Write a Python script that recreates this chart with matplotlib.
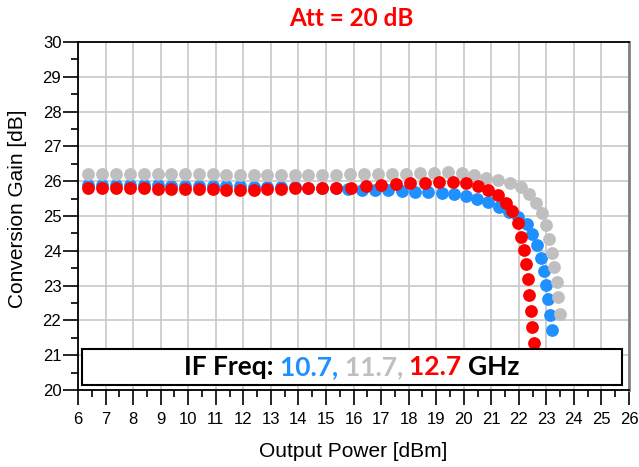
import matplotlib
matplotlib.use("Agg")
import matplotlib.pyplot as plt
from matplotlib.ticker import MultipleLocator
from matplotlib.patches import Rectangle

# Output power [dBm] and conversion gain [dB] per IF frequency
pout_10_7 = [6.37, 6.88, 7.39, 7.89, 8.39, 8.89, 9.39, 9.89, 10.39, 10.89, 11.38, 11.88,
             12.38, 12.87, 13.37, 13.87, 14.36, 14.86, 15.36, 15.81, 16.30, 16.78, 17.26,
             17.75, 18.23, 18.72, 19.20, 19.65, 20.08, 20.49, 20.89, 21.29, 21.66, 21.98,
             22.29, 22.47, 22.65, 22.80, 22.91, 22.99, 23.07, 23.13, 23.19]
gain_10_7 = [25.90, 25.90, 25.89, 25.89, 25.88, 25.88, 25.87, 25.87, 25.86, 25.86, 25.85,
             25.85, 25.84, 25.84, 25.83, 25.82, 25.81, 25.80, 25.79, 25.77, 25.75, 25.75,
             25.75, 25.73, 25.70, 25.68, 25.65, 25.62, 25.57, 25.49, 25.39, 25.27, 25.12,
             24.98, 24.77, 24.48, 24.17, 23.80, 23.42, 23.01, 22.61, 22.15, 21.72]

pout_11_7 = [6.37, 6.88, 7.39, 7.89, 8.39, 8.89, 9.39, 9.89, 10.39, 10.89, 11.38, 11.88,
             12.38, 12.87, 13.37, 13.87, 14.36, 14.86, 15.36, 15.87, 16.38, 16.90, 17.41,
             17.91, 18.41, 18.92, 19.44, 19.93, 20.37, 20.81, 21.26, 21.68, 22.07, 22.37,
             22.62, 22.83, 22.99, 23.10, 23.19, 23.29, 23.38, 23.43, 23.50]
gain_11_7 = [26.22, 26.22, 26.21, 26.21, 26.21, 26.21, 26.21, 26.20, 26.20, 26.20, 26.19,
             26.19, 26.19, 26.19, 26.19, 26.19, 26.19, 26.19, 26.19, 26.20, 26.20, 26.20,
             26.21, 26.21, 26.23, 26.23, 26.25, 26.23, 26.17, 26.10, 26.03, 25.96, 25.84,
             25.62, 25.38, 25.08, 24.74, 24.33, 23.93, 23.53, 23.10, 22.67, 22.18]

pout_12_7 = [6.37, 6.88, 7.39, 7.89, 8.39, 8.89, 9.39, 9.89, 10.39, 10.89, 11.38, 11.88,
             12.38, 12.87, 13.37, 13.87, 14.36, 14.86, 15.36, 15.90, 16.45, 16.99, 17.53,
             18.05, 18.60, 19.11, 19.62, 20.07, 20.51, 20.89, 21.26, 21.54, 21.76, 21.96,
             22.08, 22.19, 22.26, 22.34, 22.38, 22.43, 22.49, 22.55]
gain_12_7 = [25.80, 25.80, 25.80, 25.79, 25.79, 25.78, 25.78, 25.78, 25.77, 25.77, 25.76,
             25.76, 25.76, 25.77, 25.78, 25.79, 25.80, 25.81, 25.80, 25.80, 25.85, 25.88,
             25.92, 25.94, 25.96, 25.99, 25.99, 25.94, 25.85, 25.75, 25.61, 25.38, 25.13,
             24.81, 24.41, 24.02, 23.62, 23.20, 22.72, 22.27, 21.81, 21.35]

freq_labels = ["10.7", "11.7", "12.7"]
colors = ["#1E90FF", "#BFBFBF", "#FF0000"]
series = [(pout_10_7, gain_10_7), (pout_11_7, gain_11_7), (pout_12_7, gain_12_7)]

plt.rcParams["font.family"] = ["Liberation Sans", "DejaVu Sans"]

fig = plt.figure(figsize=(6.39, 4.67), dpi=100, facecolor="white")
ax = fig.add_axes([0.1221, 0.1649, 0.8623, 0.7452])

for (x, y), c in zip(series, colors):
    ax.plot(x, y, linestyle="none", marker="o", markersize=9.2,
            markerfacecolor=c, markeredgecolor="none", zorder=3, clip_on=False)

ax.set_xlim(6, 26)
ax.set_ylim(20, 30)
ax.xaxis.set_major_locator(MultipleLocator(1))
ax.xaxis.set_minor_locator(MultipleLocator(0.5))
ax.yaxis.set_major_locator(MultipleLocator(1))
ax.yaxis.set_minor_locator(MultipleLocator(0.5))
ax.grid(True, which="major", color="#C8C8C8", linewidth=1.2, zorder=0)
ax.set_axisbelow(True)

ax.tick_params(which="major", direction="out", length=11, width=1.2, labelsize=12,
               colors="black")
ax.tick_params(axis="y", which="major", pad=1)
ax.tick_params(axis="x", which="major", pad=5)
ax.tick_params(which="minor", direction="out", length=5, width=1.2)

for side in ["left", "bottom", "top"]:
    ax.spines[side].set_color("black")
    ax.spines[side].set_linewidth(1.3)
ax.spines["right"].set_color("#808080")
ax.spines["right"].set_linewidth(2)

ax.set_xlabel("Output Power [dBm]", fontsize=15, va="center")
ax.set_ylabel("Conversion Gain [dB]", fontsize=15, va="center")
ax.xaxis.set_label_coords(0.5, -0.178)
ax.yaxis.set_label_coords(-0.11, 0.52)

fig.text(351 / 639, 1 - 19 / 467, "Att = 20 dB", color="#FF0000", fontsize=17.5,
         fontweight="bold", family=["Lato", "DejaVu Sans"], ha="center", va="center")

# legend box with coloured frequency list
box = Rectangle((0.007, 0.014), 0.98, 0.104, transform=ax.transAxes,
                facecolor="white", edgecolor="black", linewidth=1.5, zorder=5)
ax.add_patch(box)

pieces = [("IF Freq: ", "black")]
for lab, c in zip(freq_labels, colors):
    sep = ", " if lab != freq_labels[-1] else " "
    pieces.append((lab + sep, c))
pieces.append(("GHz", "black"))

renderer = fig.canvas.get_renderer()
ax_w = ax.get_window_extent(renderer=renderer).width
texts = []
xpos = 0.0
for s, c in pieces:
    t = ax.text(xpos, 0.066, s, color=c, fontsize=19, fontweight="bold",
                family=["Lato", "DejaVu Sans"], ha="left", va="center",
                transform=ax.transAxes, zorder=6)
    w = t.get_window_extent(renderer=renderer).width / ax_w
    texts.append((t, xpos))
    xpos += w
shift = 0.497 - xpos / 2
for t, x0 in texts:
    t.set_x(x0 + shift)

fig.savefig("out.png", dpi=100, facecolor="white")
